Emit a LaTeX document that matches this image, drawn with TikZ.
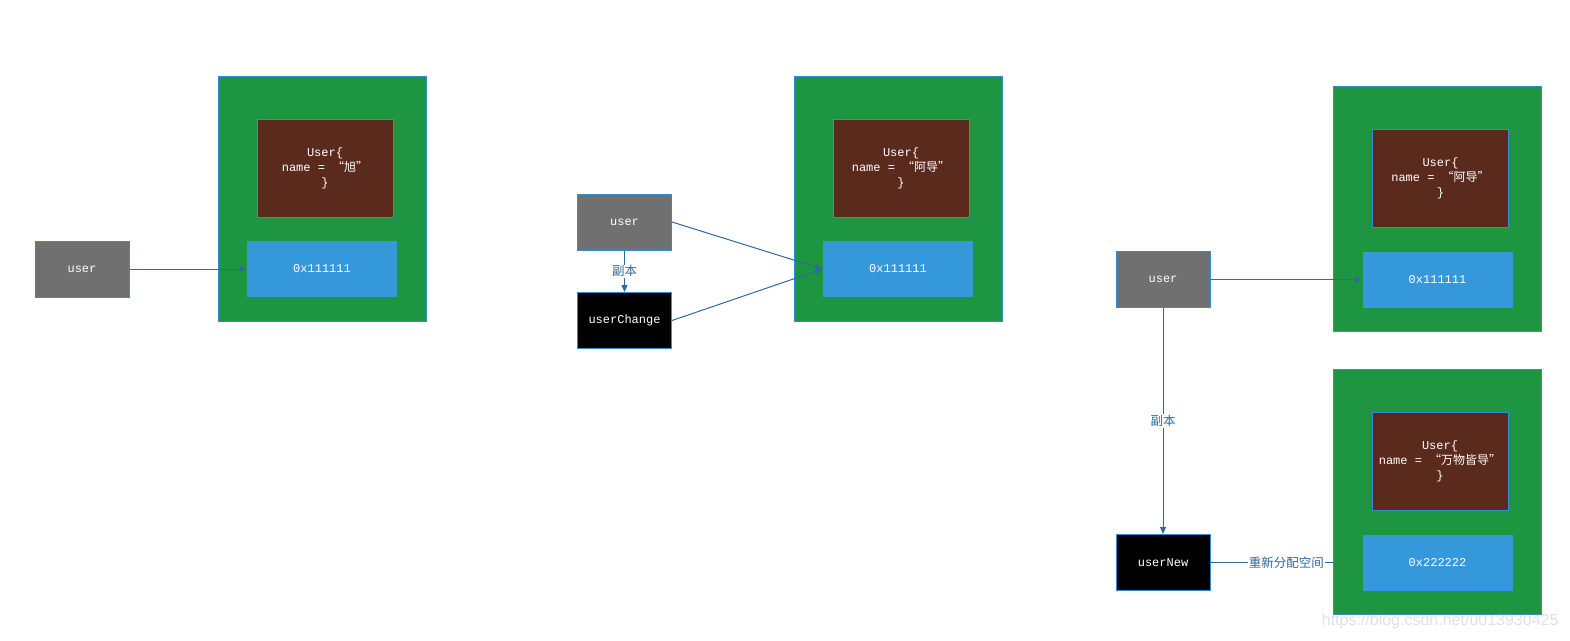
\documentclass[tikz,border=0pt]{standalone}
\usepackage{fontspec}
\setmonofont{Liberation Mono}
\newfontfamily\cjk{Noto Sans CJK SC}
\newfontfamily\wmfont{Liberation Sans}
\usetikzlibrary{arrows.meta}

\definecolor{heapgreen}{RGB}{30,150,65}
\definecolor{objbrown}{RGB}{90,42,29}
\definecolor{addrblue}{RGB}{53,152,219}
\definecolor{refgray}{RGB}{112,112,112}
\definecolor{edgeblue}{RGB}{52,140,210}
\definecolor{linkblue}{RGB}{46,106,158}

\newcommand{\cn}[1]{{\cjk #1}}

\tikzset{
  box/.style={draw=edgeblue, line width=1pt, inner sep=0pt, text=white,
    font=\ttfamily\fontsize{12}{15}\selectfont, align=center},
  heap/.style={box, fill=heapgreen, minimum width=208, minimum height=245},
  obj/.style={box, fill=objbrown, minimum width=136, minimum height=98},
  addr/.style={box, draw=none, fill=addrblue, minimum width=150, minimum height=56},
  ref/.style={box, fill=refgray, minimum width=94, minimum height=56},
  copyref/.style={box, fill=black, minimum width=94, minimum height=56},
  link/.style={draw=linkblue, line width=1pt, -{Triangle[length=7pt,width=6pt]}},
  note/.style={fill=white, text=linkblue, inner sep=1pt,
    font=\cjk\fontsize{12.5}{14}\selectfont},
  wm/.style={text=black!40, text opacity=0.3, font=\wmfont\fontsize{16}{18}\selectfont}
}

\begin{document}
\begin{tikzpicture}[x=1pt,y=-1pt]
    \useasboundingbox (0,0) rectangle (1570,640);
    % user points at the object
    \node[heap] (heapA) at (322,198.5) {};
    \node[obj] (objA) at (325,168) {User\{\\name = \cn{“旭”}\\\}};
    \node[addr] (addrA) at (322,269) {0x111111};
    \node[ref] (userA) at (82,269) {user};
    \draw[link] (userA) -- (addrA);
    % copy of the reference, same address
    \node[heap] (heapB) at (898,198.5) {};
    \node[obj] (objB) at (901,168) {User\{\\name = \cn{“阿导”}\\\}};
    \node[addr] (addrB) at (898,269) {0x111111};
    \node[ref] (userB) at (624.5,222) {user};
    \node[copyref] (userChange) at (624.5,320.5) {userChange};
    \draw[link] (userB) -- node[note] {副本} (userChange);
    \draw[link] (userB.east) -- (addrB.west);
    \draw[link] (userChange.east) -- (addrB.west);
    % copy gets new space
    \node[heap] (heapC) at (1437.5,208.5) {};
    \node[obj] (objC) at (1440.5,178) {User\{\\name = \cn{“阿导”}\\\}};
    \node[addr] (addrC) at (1437.5,279.5) {0x111111};
    \node[ref] (userC) at (1163,279.5) {user};
    \draw[link] (userC) -- (addrC);
    \node[heap] (heapD) at (1437.5,491.5) {};
    \node[obj] (objD) at (1440,461) {User\{\\name = \cn{“万物皆导”}\\\}};
    \node[addr] (addrD) at (1437.5,562.5) {0x222222};
    \node[copyref] (userNew) at (1163,562.5) {userNew};
    \draw[link] (userC) -- node[note] {副本} (userNew);
    \draw[draw=linkblue, line width=1pt] (userNew.east) -- node[note, pos=0.62] {重新分配空间} (userNew.east -| heapD.west);
    \node[wm, anchor=east] (mark) at (1562,621) {https://blog.csdn.net/u013930425};
\end{tikzpicture}
\end{document}
